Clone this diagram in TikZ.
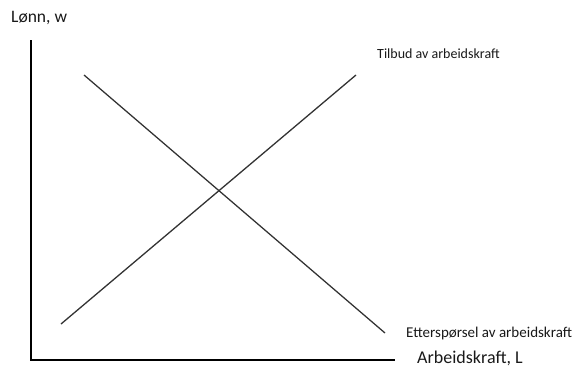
\documentclass[tikz,border=0pt]{standalone}
\usepackage{fontspec}
\setmainfont{Carlito}
\begin{document}
\begin{tikzpicture}[x=1pt,y=-1pt,
  axisline/.style={line width=2.4pt,black},
  curve/.style={line width=1.3pt,black!80},
  lbl/.style={inner sep=0pt,anchor=base west,text=black!90}]
\useasboundingbox (0,0) rectangle (576,367);
\coordinate (top) at (31,40);
\coordinate (orig) at (31,360);
\coordinate (right) at (395,360);
\draw[axisline] (top) -- (orig) -- (right);
\coordinate (s1) at (61,324);
\coordinate (s2) at (356,75);
\coordinate (d1) at (84,75);
\coordinate (d2) at (385,333);
\draw[curve] (s1) -- (s2);
\draw[curve] (d1) -- (d2);
\node[lbl,font=\fontsize{17.5}{20}\selectfont] (ylab) at (11,22) {Lønn, w};
\node[lbl,font=\fontsize{14}{16}\selectfont] (slab) at (377,58) {Tilbud av arbeidskraft};
\node[lbl,font=\fontsize{15}{17}\selectfont] (dlab) at (406,337) {Etterspørsel av arbeidskraft};
\node[lbl,font=\fontsize{18}{20}\selectfont] (xlab) at (417,363) {Arbeidskraft, L};
\end{tikzpicture}
\end{document}
